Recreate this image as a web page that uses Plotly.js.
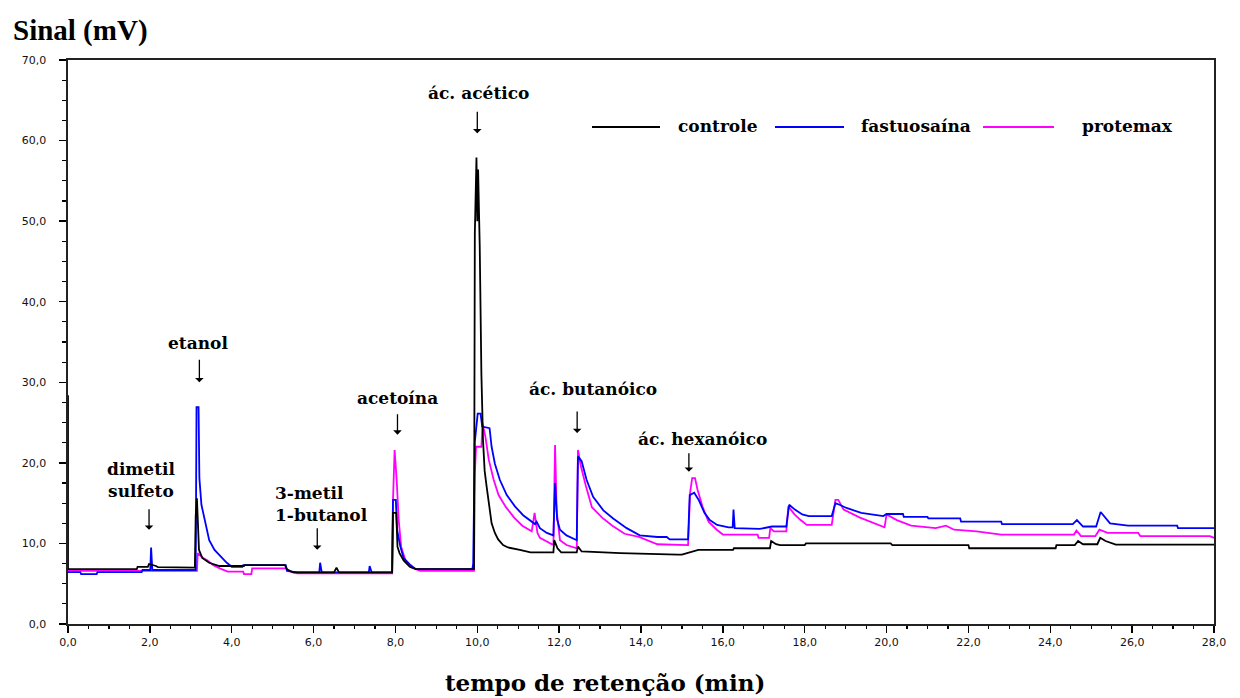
<!DOCTYPE html>
<html>
<head>
<meta charset="utf-8">
<script src="https://cdn.plot.ly/plotly-3.0.1.min.js"></script>
<style>
  html, body { margin: 0; padding: 0; background: #ffffff; }
  #chart { width: 1240px; height: 698px; }
</style>
</head>
<body>
<div id="chart"></div>
<script>
// ---- data (retention time in min, signal in mV) ----
const seriesNames = ["controle", "fastuosaína", "protemax"];

const ctrlX = [0, 0, 0, 1.68, 1.7, 1.95, 1.98, 2.15, 2.2, 3.1, 3.12, 3.15, 3.18, 3.2, 3.28, 3.45, 3.7, 4.3, 4.32, 5.3, 5.35, 5.45, 5.5, 6.5, 6.56, 6.62, 7.92, 7.94, 8.02, 8.05, 8.1, 8.2, 8.35, 8.5, 9.92, 9.94, 9.98, 10.0, 10.02, 10.06, 10.1, 10.14, 10.18, 10.23, 10.28, 10.35, 10.43, 10.51, 10.63, 10.75, 11.04, 11.3, 11.86, 11.88, 11.96, 12.05, 12.43, 12.46, 12.55, 13.5, 14.9, 15.0, 15.4, 16.25, 16.27, 17.15, 17.18, 17.3, 17.4, 18.0, 18.03, 20.1, 20.14, 22.0, 22.02, 24.13, 24.15, 24.6, 24.68, 24.8, 25.15, 25.22, 25.35, 25.6, 28.0];
const ctrlY = [28.4, 17.0, 6.8, 6.8, 7.1, 7.1, 7.45, 7.2, 7.05, 7.0, 13.4, 15.6, 12.0, 9.2, 8.2, 7.6, 7.2, 7.2, 7.3, 7.3, 6.8, 6.6, 6.4, 6.4, 7.0, 6.4, 6.4, 13.8, 13.8, 9.6, 8.8, 7.9, 7.1, 6.8, 6.8, 48.5, 57.9, 50.0, 56.4, 46.8, 31.1, 22.8, 19.0, 17.0, 15.0, 12.5, 11.3, 10.5, 9.8, 9.5, 9.2, 8.9, 8.9, 10.4, 9.4, 8.9, 8.9, 9.6, 9.0, 8.8, 8.6, 8.6, 9.2, 9.2, 9.4, 9.4, 10.3, 9.9, 9.8, 9.8, 10.0, 10.0, 9.8, 9.8, 9.4, 9.4, 9.8, 9.8, 10.3, 9.9, 9.9, 10.7, 10.3, 9.85, 9.85];

const fastX = [0, 0.3, 0.32, 0.7, 0.72, 1.8, 1.82, 2.01, 2.03, 2.06, 3.12, 3.14, 3.19, 3.21, 3.26, 3.35, 3.45, 3.58, 3.75, 3.88, 4.0, 4.26, 4.28, 5.32, 5.35, 5.6, 6.14, 6.16, 6.2, 7.35, 7.37, 7.42, 7.92, 7.94, 8.01, 8.04, 8.12, 8.2, 8.35, 8.5, 9.88, 9.9, 9.94, 10.01, 10.08, 10.12, 10.3, 10.35, 10.43, 10.55, 10.72, 10.92, 11.12, 11.33, 11.41, 11.45, 11.53, 11.7, 11.86, 11.9, 11.95, 12.02, 12.18, 12.43, 12.46, 12.55, 12.67, 12.83, 13.08, 13.32, 13.65, 13.97, 14.4, 14.63, 14.7, 15.15, 15.19, 15.3, 15.41, 15.55, 15.68, 15.86, 16.14, 16.24, 16.26, 16.29, 16.9, 17.2, 17.55, 17.62, 17.76, 17.94, 18.1, 18.66, 18.75, 18.85, 19.02, 19.38, 19.92, 20.0, 20.4, 20.42, 21.0, 21.02, 21.8, 21.82, 22.8, 22.82, 24.55, 24.65, 24.8, 25.12, 25.23, 25.46, 25.9, 27.1, 27.12, 28.0];
const fastY = [6.45, 6.45, 6.2, 6.2, 6.45, 6.45, 6.7, 6.7, 9.5, 6.7, 6.7, 26.9, 26.9, 18.1, 14.8, 12.5, 10.4, 9.2, 8.3, 7.6, 7.1, 7.1, 7.3, 7.3, 6.6, 6.4, 6.4, 7.6, 6.4, 6.4, 7.2, 6.4, 6.4, 15.4, 15.4, 11.7, 9.6, 8.2, 7.4, 6.8, 6.8, 7.5, 22.6, 26.1, 26.1, 24.5, 24.3, 22.0, 19.9, 17.9, 16.0, 14.6, 13.5, 12.7, 12.4, 12.7, 11.9, 11.3, 11.0, 17.5, 13.0, 11.7, 11.0, 10.4, 20.8, 20.2, 17.9, 15.8, 14.1, 13.1, 11.9, 11.0, 10.8, 10.8, 10.5, 10.5, 16.0, 16.3, 15.4, 13.8, 12.9, 12.3, 12.0, 12.0, 14.2, 11.9, 11.8, 12.1, 12.1, 14.8, 14.2, 13.6, 13.4, 13.4, 15.0, 14.8, 14.4, 13.8, 13.4, 13.65, 13.65, 13.3, 13.3, 13.1, 13.1, 12.7, 12.7, 12.4, 12.4, 12.9, 12.1, 12.1, 13.9, 12.5, 12.2, 12.2, 11.9, 11.9];

const protX = [0, 3.15, 3.17, 3.3, 3.4, 3.55, 3.71, 3.9, 4.28, 4.3, 4.48, 4.5, 5.33, 5.35, 5.6, 7.92, 7.94, 7.98, 8.03, 8.08, 8.14, 8.25, 8.4, 8.6, 9.92, 9.94, 9.97, 10.1, 10.13, 10.2, 10.28, 10.4, 10.52, 10.7, 10.9, 11.1, 11.33, 11.4, 11.47, 11.53, 11.86, 11.9, 11.94, 12.02, 12.18, 12.43, 12.46, 12.53, 12.65, 12.8, 13.05, 13.3, 13.6, 13.95, 14.4, 15.15, 15.2, 15.25, 15.32, 15.38, 15.5, 15.65, 15.85, 16.0, 16.85, 16.87, 17.13, 17.16, 17.25, 17.55, 17.6, 17.75, 17.9, 18.05, 18.66, 18.75, 18.82, 18.95, 19.35, 19.7, 19.95, 20.0, 20.25, 20.6, 21.2, 21.45, 21.65, 22.2, 22.8, 24.58, 24.64, 24.75, 25.1, 25.2, 25.4, 26.15, 26.2, 27.9, 28.0];
const protY = [6.6, 6.6, 8.8, 8.2, 7.9, 7.3, 6.9, 6.5, 6.5, 6.2, 6.2, 6.9, 6.9, 6.6, 6.3, 6.3, 15.2, 21.6, 17.9, 12.9, 9.6, 7.8, 7.0, 6.6, 6.6, 18.7, 22.0, 22.0, 24.9, 23.2, 20.4, 17.9, 16.0, 14.5, 13.2, 12.2, 11.5, 13.8, 11.3, 10.7, 9.8, 22.2, 14.0, 10.4, 9.8, 9.4, 21.6, 19.6, 17.2, 14.5, 13.2, 12.2, 11.2, 10.8, 9.9, 9.8, 16.3, 18.1, 18.1, 16.7, 14.6, 12.7, 11.7, 11.1, 11.1, 10.7, 10.7, 11.9, 11.5, 11.5, 14.6, 13.6, 12.9, 12.3, 12.3, 15.4, 15.4, 14.2, 13.2, 12.5, 12.0, 13.6, 12.9, 12.2, 11.9, 12.2, 11.7, 11.5, 11.1, 11.1, 11.6, 10.9, 10.9, 11.7, 11.3, 11.3, 10.9, 10.9, 10.7];

// peak labels and arrow tips (retention time, mV)
const peakLabels = ["dimetil<br>sulfeto", "etanol", "3-metil<br>1-butanol", "acetoína", "ác. acético", "ác. butanóico", "ác. hexanóico"];
const peakTipX   = [1.98, 3.21, 6.09, 8.05, 10.0, 12.44, 15.17];
const peakTipY   = [11.7, 30.0, 9.2, 23.5, 60.9, 23.7, 18.9];

const xTickVals = [0, 2, 4, 6, 8, 10, 12, 14, 16, 18, 20, 22, 24, 26, 28];
const yTickVals = [0, 10, 20, 30, 40, 50, 60, 70];

// ---- layout helpers (pixel geometry of the reference) ----
const W = 1240, H = 698;
const M = {l: 68, r: 26, t: 60, b: 74};
const PW = W - M.l - M.r, PH = H - M.t - M.b;
const px2paperX = p => (p - M.l) / PW;
const px2paperY = p => (H - M.b - p) / PH;
const px2dataX = p => (p - M.l) / PW * 28;
const px2dataY = p => (H - M.b - p) / PH * 70;

const colors = ["#000000", "#0000ff", "#ff00ff"];
const serif = "DejaVu Serif, serif";

const mk = (x, y, i) => ({
  x: x, y: y, type: "scatter", mode: "lines", name: seriesNames[i],
  line: {color: colors[i], width: 1.8},
  showlegend: false, hoverinfo: "skip"
});
const traces = [mk(protX, protY, 2), mk(fastX, fastY, 1), mk(ctrlX, ctrlY, 0)];

// label positions in reference pixels (center) and alignment
const labelPx = [[141, 480, "center"], [198, 343, "center"], [321, 504, "left"], [397, 398, "center"], [478, 93, "center"], [593, 389, "center"], [702, 439, "center"]];
const arrowLen = [22, 24, 23, 22, 23, 23, 20];

const annotations = [];
peakLabels.forEach((t, i) => {
  annotations.push({
    x: px2dataX(labelPx[i][0]), y: px2dataY(labelPx[i][1]), xref: "x", yref: "y",
    text: "<b>" + t + "</b>", showarrow: false, align: labelPx[i][2],
    xanchor: "center", yanchor: "middle",
    font: {family: serif, size: 17, color: "#000"}
  });
  annotations.push({
    x: peakTipX[i], y: peakTipY[i], xref: "x", yref: "y", text: "",
    showarrow: true, ax: 0, ay: -arrowLen[i], arrowhead: 1, arrowsize: 1.1,
    arrowwidth: 1.3, arrowcolor: "#000", standoff: 0, startstandoff: 0
  });
});

// legend drawn like the reference: long line sample followed by its label
const legendSpec = [[592, 660, 718], [775, 844, 916], [983, 1054, 1127]];
const legY = 127;
const shapes = [];
legendSpec.forEach((s, i) => {
  shapes.push({type: "line", xref: "paper", yref: "paper",
    x0: px2paperX(s[0]), x1: px2paperX(s[1]), y0: px2paperY(legY), y1: px2paperY(legY),
    line: {color: colors[i], width: 1.8}});
  annotations.push({xref: "paper", yref: "paper", x: px2paperX(s[2]), y: px2paperY(legY - 1),
    text: "<b>" + seriesNames[i] + "</b>", showarrow: false, xanchor: "center", yanchor: "middle",
    font: {family: serif, size: 17, color: "#000"}});
});

// axis titles
annotations.push({xref: "paper", yref: "paper", x: px2paperX(11), y: px2paperY(30),
  xanchor: "left", yanchor: "middle", showarrow: false, text: "<b>Sinal (mV)</b>",
  font: {family: "Liberation Serif, serif", size: 29, color: "#000"}});
annotations.push({xref: "paper", yref: "paper", x: px2paperX(605), y: px2paperY(682),
  xanchor: "center", yanchor: "middle", showarrow: false, text: "<b>tempo de retenção (min)</b>",
  font: {family: serif, size: 23, color: "#000"}});

const tickFont = {family: "DejaVu Sans, sans-serif", size: 11, color: "#111"};
const layout = {
  width: W, height: H,
  margin: M,
  paper_bgcolor: "#ffffff", plot_bgcolor: "#ffffff",
  separators: ",.",
  showlegend: false,
  xaxis: {
    range: [0, 28], tickvals: xTickVals, tickformat: ".1f",
    ticks: "outside", ticklen: 7, tickwidth: 1.3, tickcolor: "#000",
    minor: {dtick: 0.5, ticks: "outside", ticklen: 3, tickwidth: 1.2, tickcolor: "#000"},
    showline: true, linecolor: "#222", linewidth: 1.6, mirror: true,
    showgrid: false, zeroline: false, tickfont: tickFont, fixedrange: true
  },
  yaxis: {
    range: [0, 70], tickvals: yTickVals, tickformat: ".1f",
    ticks: "outside", ticklen: 7, tickwidth: 1.3, tickcolor: "#000",
    minor: {dtick: 2.5, ticks: "outside", ticklen: 4, tickwidth: 1.2, tickcolor: "#000"},
    showline: true, linecolor: "#222", linewidth: 1.6, mirror: true,
    showgrid: false, zeroline: false, tickfont: tickFont, fixedrange: true,
    ticklabelstandoff: 11
  },
  annotations: annotations,
  shapes: shapes
};

Plotly.newPlot("chart", traces, layout, {staticPlot: true, displayModeBar: false});
</script>
</body>
</html>
